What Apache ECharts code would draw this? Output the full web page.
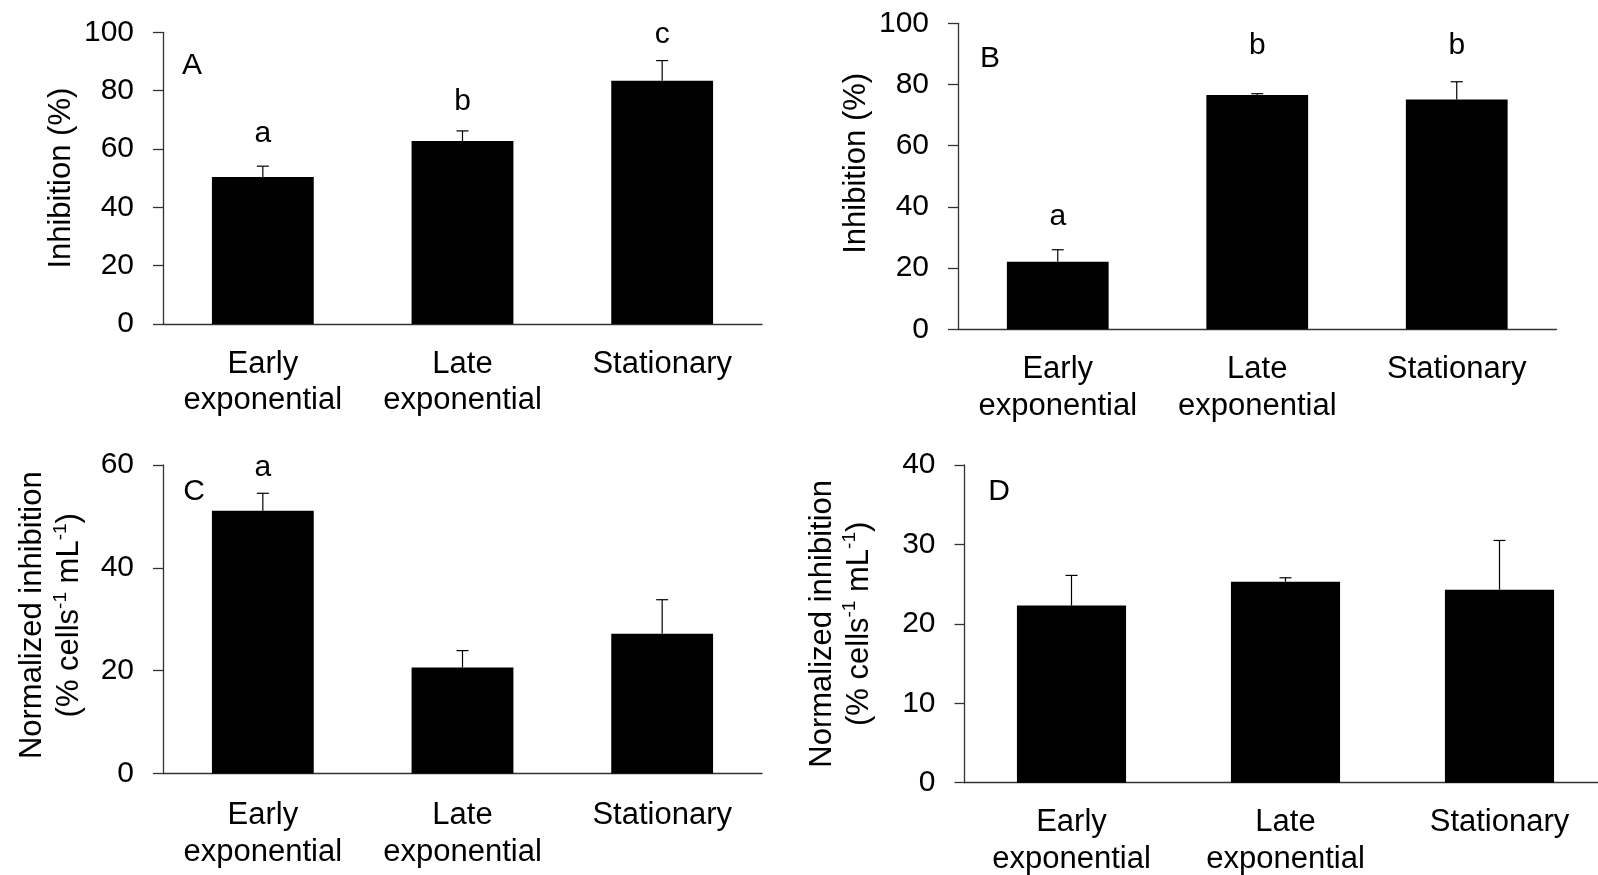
<!DOCTYPE html>
<html>
<head>
<meta charset="utf-8">
<title>Inhibition by growth phase</title>
<script src="https://cdn.jsdelivr.net/npm/echarts@6/dist/echarts.min.js"></script>
<style>
  html, body { margin: 0; padding: 0; background: #ffffff; }
  #chart { width: 1598px; height: 875px; }
</style>
</head>
<body>
<div id="chart"></div>
<script>
// ---- data ------------------------------------------------------------
const categories = ['Early\nexponential', 'Late\nexponential', 'Stationary'];

// A: inhibition (%)
const inhibitionA = [50.4, 62.7, 83.4];
const inhibitionAErr = [3.7, 3.5, 6.9];
const lettersA = ['a', 'b', 'c'];

// B: inhibition (%)
const inhibitionB = [22.1, 76.6, 75.1];
const inhibitionBErr = [3.9, 0.4, 5.8];
const lettersB = ['a', 'b', 'b'];

// C: normalized inhibition (% cells^-1 mL^-1)
const normalizedC = [51.1, 20.6, 27.2];
const normalizedCErr = [3.4, 3.3, 6.6];
const lettersC = ['a', '', ''];

// D: normalized inhibition (% cells^-1 mL^-1)
const normalizedD = [22.3, 25.3, 24.3];
const normalizedDErr = [3.8, 0.5, 6.2];
const lettersD = ['', '', ''];

// y-axis tick labels
const ticksInhibition = [0, 20, 40, 60, 80, 100];
const ticksC = [0, 20, 40, 60];
const ticksD = [0, 10, 20, 30, 40];

// ---- styling -----------------------------------------------------------
const FONT = '"Liberation Sans", Arial, Helvetica, sans-serif';
const AXIS_COLOR = '#333333';
const TEXT_COLOR = '#000000';

const nameInhibition = 'Inhibition (%)';
const nameNormalized = '{n|Normalized inhibition}\n{n|(% cells}{s|-1}{n| mL}{s|-1}{n|)}';

// layout for each of the four panels
const panels = [
  { tag: 'A', tagAt: [192, 66], values: inhibitionA, errors: inhibitionAErr, letters: lettersA,
    letterAt: [65.3, 76.1, 99.2], ticks: ticksInhibition, name: nameInhibition,
    nameGap: 80, namePad: [0, 0, 0, 0], labelMargin: 22,
    grid: { left: 163, top: 32.3, width: 599, height: 291.7 } },
  { tag: 'B', tagAt: [990, 59], values: inhibitionB, errors: inhibitionBErr, letters: lettersB,
    letterAt: [36.7, 92.6, 92.6], ticks: ticksInhibition, name: nameInhibition,
    nameGap: 80, namePad: [0, 0, 0, 26], labelMargin: 22,
    grid: { left: 958, top: 23.3, width: 598.5, height: 306 } },
  { tag: 'C', tagAt: [194, 492], values: normalizedC, errors: normalizedCErr, letters: lettersC,
    letterAt: [59.5, 0, 0], ticks: ticksC, name: nameNormalized,
    nameGap: 75, namePad: [0, 0, 0, 8], labelMargin: 24,
    grid: { left: 163, top: 465, width: 599, height: 308.5 } },
  { tag: 'D', tagAt: [999, 492], values: normalizedD, errors: normalizedDErr, letters: lettersD,
    letterAt: [0, 0, 0], ticks: ticksD, name: nameNormalized,
    nameGap: 87, namePad: [0, 0, 0, 0], labelMargin: 22,
    grid: { left: 964.5, top: 465, width: 642, height: 317.7 } }
];

// ---- option ------------------------------------------------------------
const option = {
  animation: false,
  backgroundColor: '#ffffff',
  textStyle: { fontFamily: FONT, color: TEXT_COLOR },
  grid: [],
  xAxis: [],
  yAxis: [],
  series: [],
  graphic: []
};

panels.forEach(function (p, k) {
  option.grid.push(Object.assign({ containLabel: false, outerBoundsMode: 'none' }, p.grid));

  option.xAxis.push({
    type: 'category',
    gridIndex: k,
    data: categories,
    axisLine: { show: true, lineStyle: { color: AXIS_COLOR, width: 1.3 } },
    axisTick: { show: false },
    splitLine: { show: false },
    axisLabel: {
      show: true, interval: 0, margin: p.labelMargin,
      fontFamily: FONT, fontSize: 31, lineHeight: 36.5, color: TEXT_COLOR
    }
  });

  const step = p.ticks[1] - p.ticks[0];
  option.yAxis.push({
    type: 'value',
    gridIndex: k,
    min: p.ticks[0],
    max: p.ticks[p.ticks.length - 1],
    interval: step,
    name: p.name,
    nameLocation: 'middle',
    nameRotate: 90,
    nameGap: p.nameGap,
    nameTextStyle: {
      fontFamily: FONT, fontSize: 31, lineHeight: 37, color: TEXT_COLOR,
      padding: p.namePad,
      rich: {
        n: { fontFamily: FONT, fontSize: 31, lineHeight: 37, color: TEXT_COLOR },
        s: { fontFamily: FONT, fontSize: 19, lineHeight: 27, verticalAlign: 'top', color: TEXT_COLOR }
      }
    },
    axisLine: { show: true, lineStyle: { color: AXIS_COLOR, width: 1.3 } },
    axisTick: { show: true, inside: false, length: 10, lineStyle: { color: AXIS_COLOR, width: 1.3 } },
    splitLine: { show: false },
    axisLabel: {
      show: true, margin: 29,
      fontFamily: FONT, fontSize: 30, color: TEXT_COLOR
    }
  });

  option.series.push({
    type: 'bar',
    xAxisIndex: k,
    yAxisIndex: k,
    data: p.values,
    barCategoryGap: '49%',
    itemStyle: { color: '#000000' },
    emphasis: { disabled: true }
  });

  // error bars (upper whisker) with significance letters
  option.series.push({
    type: 'custom',
    xAxisIndex: k,
    yAxisIndex: k,
    clip: false,
    z: 5,
    data: p.values.map(function (v, i) { return [i, v, p.errors[i], p.letterAt[i]]; }),
    encode: { x: 0, y: [1, 2] },
    renderItem: function (params, api) {
      const i = api.value(0);
      const mean = api.value(1);
      const err = api.value(2);
      const base = api.coord([i, mean]);
      const top = api.coord([i, mean + err]);
      const lineStyle = { stroke: '#000000', lineWidth: 1.2 };
      const children = [
        { type: 'line', shape: { x1: base[0], y1: base[1], x2: top[0], y2: top[1] }, style: lineStyle },
        { type: 'line', shape: { x1: top[0] - 6, y1: top[1], x2: top[0] + 6, y2: top[1] }, style: lineStyle }
      ];
      const letter = p.letters[params.dataIndex];
      if (letter) {
        const at = api.coord([i, api.value(3)]);
        children.push({
          type: 'text',
          x: at[0], y: at[1],
          style: {
            text: letter, fontFamily: FONT, fontSize: 30, fill: TEXT_COLOR,
            align: 'center', verticalAlign: 'middle'
          }
        });
      }
      return { type: 'group', children: children };
    }
  });

  // panel tag
  option.graphic.push({
    type: 'text',
    x: p.tagAt[0], y: p.tagAt[1],
    style: {
      text: p.tag, fontFamily: FONT, fontSize: 30, fill: TEXT_COLOR,
      align: 'center', verticalAlign: 'middle'
    }
  });
});

const chart = echarts.init(document.getElementById('chart'), null, { renderer: 'canvas' });
chart.setOption(option);
</script>
</body>
</html>
